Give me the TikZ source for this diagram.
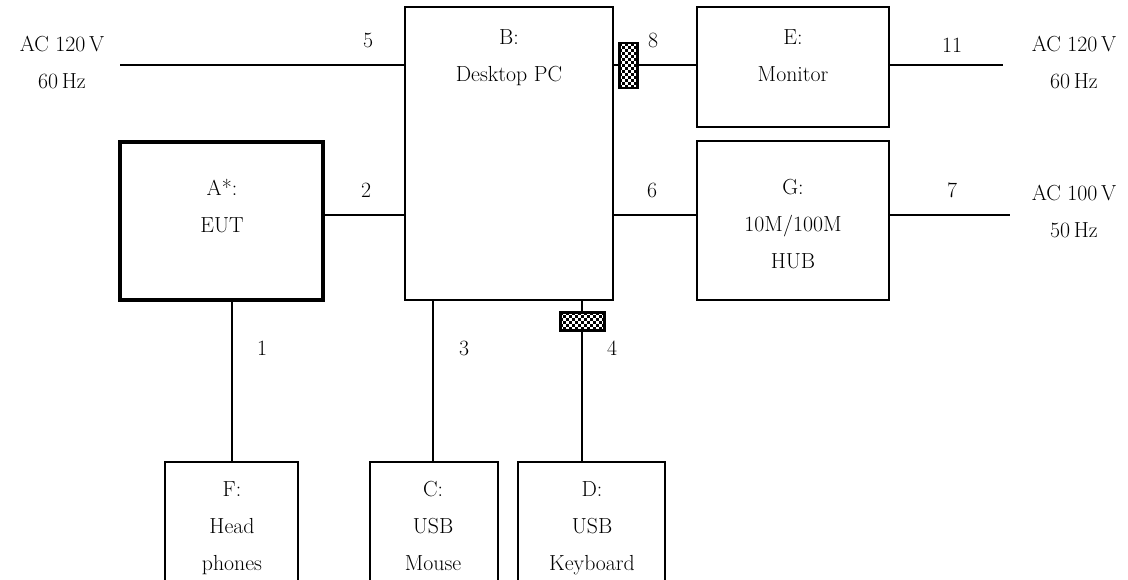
\documentclass[tikz,border=0pt]{standalone}
\usepackage{fontspec}
\usepackage{tikz}
\usetikzlibrary{positioning,calc}
\tikzset{
  unit/.style={
    rectangle, draw=black, line width=1pt, inner sep=0pt
  },
  unitEUT/.style={
    unit, line width=2.8pt
  },
  caption/.style={
    align=center, anchor=north, inner sep=0pt,
    font=\fontsize{15.5}{26.3}\selectfont
  },
  cablenum/.style={
    inner sep=0pt, font=\fontsize{15.5}{18}\selectfont
  },
  cable/.style={line width=1pt},
  ferrite/.style={
    rectangle, draw=black, line width=1.2pt, inner sep=0pt
  }
}
% checker cells inside a ferrite node
\newcommand{\checkercells}[1]{%
  \begin{scope}
    \clip (#1.south west) rectangle (#1.north east);
    \foreach \u in {0,6,...,48} {
      \foreach \v in {0,6,...,48} {
        \fill ($(#1.north west)+(\u,\v)$) rectangle ++(3,3);
        \fill ($(#1.north west)+(\u+3,\v+3)$) rectangle ++(3,3);
      }
    }
  \end{scope}
  \draw[line width=1.2pt] (#1.south west) rectangle (#1.north east);
}
\begin{document}
\begin{tikzpicture}[x=0.025cm, y=-0.025cm]
  \useasboundingbox (0,0) rectangle (1128,579);
  % Units
  \node[unit, minimum width=5.2cm, minimum height=7.325cm] (pc) at (509,153.5) {};
  \node[unit, minimum width=4.8cm, minimum height=3cm] (mon) at (793,67) {};
  \node[unit, minimum width=4.8cm, minimum height=3.975cm] (hub) at (793,220.5) {};
  \node[unitEUT, minimum width=5.075cm, minimum height=3.95cm] (eut) at (221.5,221) {};
  \node[unit, minimum width=3.325cm, minimum height=4cm] (hp) at (231.5,542) {};
  \node[unit, minimum width=3.2cm, minimum height=4cm] (mouse) at (434,542) {};
  \node[unit, minimum width=3.675cm, minimum height=4cm] (kbd) at (591.5,542) {};
  % Unit captions
  \node[caption] (pcT) at (509,29) {B:\\Desktop PC};
  \node[caption] (monT) at (793,29) {E:\\Monitor};
  \node[caption] (hubT) at (793,179) {G:\\10M/100M\\HUB};
  \node[caption] (eutT) at (222,179) {A*:\\EUT};
  \node[caption] (hpT) at (232,481) {F:\\Head\\phones};
  \node[caption] (mouseT) at (433,481) {C:\\USB\\Mouse};
  \node[caption] (kbdT) at (592,481) {D:\\USB\\Keyboard};
  % Mains
  \node[caption] (acL) at (62,36) {AC 120\,V\\60\,Hz};
  \node[caption] (acR) at (1074,36) {AC 120\,V\\60\,Hz};
  \node[caption] (acH) at (1074,185) {AC 100\,V\\50\,Hz};
  \coordinate (p5) at (120,65);
  \coordinate (p11) at (1003,65);
  \coordinate (p7) at (1010,215);
  % Cables
  \draw[cable] (p5) -- (p5 -| pc.west);
  \draw[cable] (eut.east |- 0,215) -- (pc.west |- 0,215);
  \draw[cable] (pc.east |- p5) -- (mon.west |- p5);
  \draw[cable] (mon.east |- p11) -- (p11);
  \draw[cable] (pc.east |- p7) -- (hub.west |- p7);
  \draw[cable] (hub.east |- p7) -- (p7);
  \draw[cable] (eut.south -| 232,0) -- (hp.north -| 232,0);
  \draw[cable] (pc.south -| 433,0) -- (mouse.north -| 433,0);
  \draw[cable] (pc.south -| 582,0) -- (kbd.north -| 582,0);
  % Ferrite cores
  \node[ferrite, fill=white, minimum width=0.425cm, minimum height=1.1cm] (fc8) at (628.5,65.5) {};
  \node[ferrite, fill=white, minimum width=1.075cm, minimum height=0.425cm] (fc4) at (582.5,321.5) {};
  \checkercells{fc8}
  \checkercells{fc4}
  % Cable numbers
  \node[cablenum] (n5) at (368,40) {5};
  \node[cablenum] (n2) at (366,190) {2};
  \node[cablenum] (n8) at (653,40) {8};
  \node[cablenum] (n11) at (952,45) {11};
  \node[cablenum] (n6) at (652,190) {6};
  \node[cablenum] (n7) at (952,190) {7};
  \node[cablenum] (n1) at (262,348) {1};
  \node[cablenum] (n3) at (464,348) {3};
  \node[cablenum] (n4) at (612,348) {4};
\end{tikzpicture}
\end{document}
